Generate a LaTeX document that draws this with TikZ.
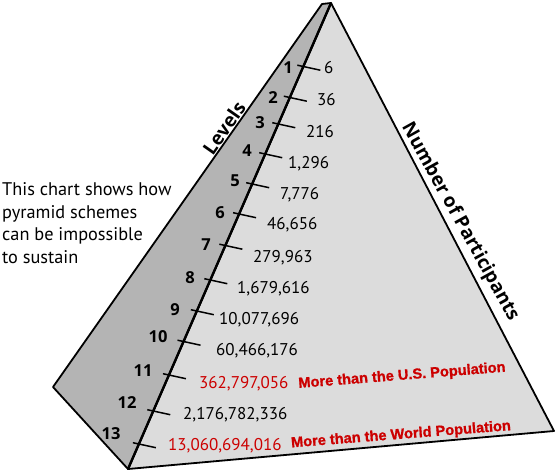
\documentclass[tikz,border=0pt]{standalone}
\usepackage{fontspec}
\setmainfont{PT Sans}
\newfontfamily\notefont{Liberation Sans}[BoldFeatures={FakeBold=1}]
\newfontfamily\heavyfont{Open Sans}
\usetikzlibrary{calc}
\definecolor{facegray}{RGB}{180,180,180}
\definecolor{frontgray}{RGB}{220,220,220}
\definecolor{popred}{RGB}{204,0,0}
\begin{document}
\begin{tikzpicture}[x=1pt,y=-1pt,
  edge/.style={line width=1.8pt, line join=round},
  axisline/.style={line width=2.4pt},
  tickline/.style={line width=1.5pt},
  lvl/.style={font=\heavyfont\fontsize{16.5}{20}\selectfont\bfseries, inner sep=0, anchor=base},
  num/.style={font=\fontsize{17}{20}\selectfont, inner sep=0, anchor=base west},
  note/.style={font=\notefont\fontsize{14.6}{17}\selectfont\bfseries, text=popred, inner sep=0, rotate=4.5},
  caption/.style={font=\fontsize{18.3}{22}\selectfont, inner sep=0, anchor=base west},
  axtitle/.style={font=\heavyfont\fontsize{19}{22}\selectfont\bfseries, inner sep=0}]
\useasboundingbox (0,0) rectangle (555,472);
\coordinate (apex) at (331,3);
\coordinate (base) at (128,469);
\coordinate (right) at (554,431);
\coordinate (gtop) at (322,4);
\coordinate (gleft) at (53,387);
\filldraw[edge, fill=frontgray] (apex) -- (right) -- (base) -- cycle;
\filldraw[edge, fill=facegray] (gtop) -- (apex) -- (base) -- (gleft) -- cycle;
\draw[axisline] (apex) -- (base);
\foreach \i/\Y/\lx/\ly/\nx/\ny/\txt/\col in {
  1/66.5/288/67/324/68/{6}/black,
  2/97.5/273/97/317/100/{36}/black,
  3/124/260/122/306/132/{216}/black,
  4/154/247/150/288/163/{1,296}/black,
  5/184/235/180/280/194/{7,776}/black,
  6/214/220/212/267/224/{46,656}/black,
  7/245.5/206/244/253/257/{279,963}/black,
  8/280/190/277/237/288/{1,679,616}/black,
  9/311/175/309/219/319/{10,077,696}/black,
  10/341.5/158/336/216/350/{60,466,176}/black,
  11/375/143/370/199/383/{362,797,056}/popred,
  12/411/127/402/183/414/{2,176,782,336}/black,
  13/444/111/433/168/445/{13,060,694,016}/popred}{
  \coordinate (t\i) at ($(apex)!{(\Y-3)/466}!(base)$);
  \draw[tickline] ([shift={(-6,-1.3)}]t\i) -- ([shift={(17,3.7)}]t\i);
  \node[lvl] (l\i) at (\lx,\ly+6) {\i};
  \node[num, text=\col] (n\i) at (\nx,\ny+5.5) {\txt};
}
\node[note] (us) at (402,376) {More than the U.S. Population};
\node[note] (world) at (401,435) {More than the World Population};
\node[axtitle, rotate=55] (levels) at (224,128) {Levels};
\node[axtitle, rotate=-61] (parts) at (460,222) {Number of Participants};
\node[caption] (c1) at (2,195) {This chart shows how};
\node[caption] (c2) at (2,218) {pyramid schemes};
\node[caption] (c3) at (2,240.5) {can be impossible};
\node[caption] (c4) at (2,263) {to sustain};
\end{tikzpicture}
\end{document}
